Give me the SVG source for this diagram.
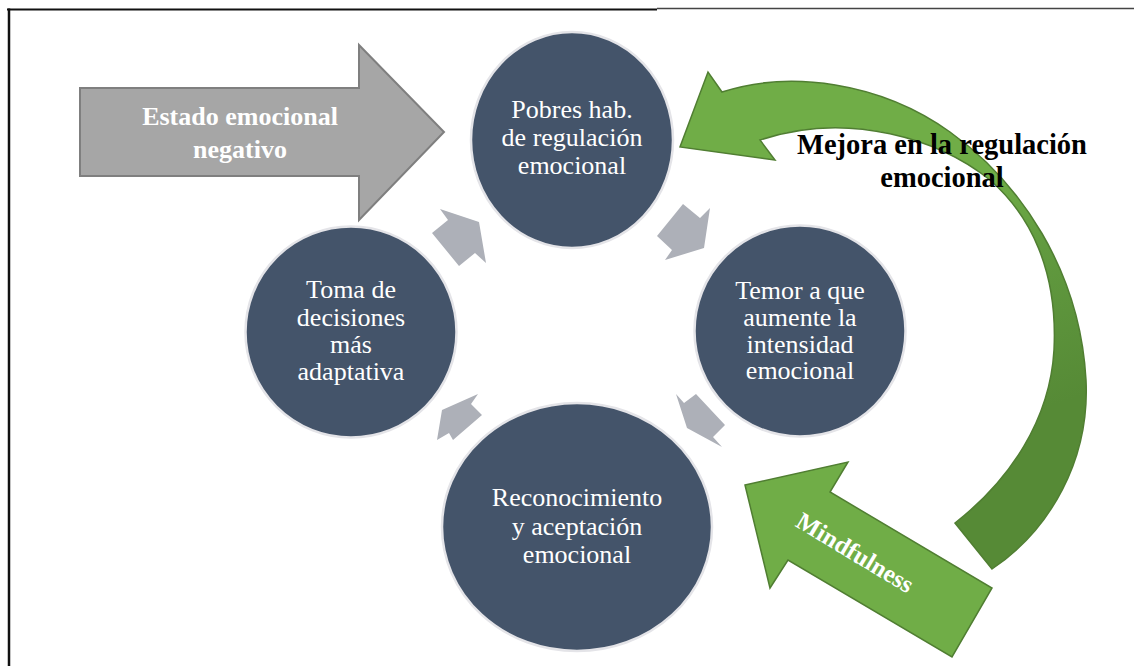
<svg xmlns="http://www.w3.org/2000/svg" width="1134" height="666" viewBox="0 0 1134 666">
<defs>
<style>
.node{fill:#44546A;stroke:#E4E4E8;stroke-width:2.5}
.ntext{font-family:"Liberation Serif","Times New Roman",serif;font-size:26px;fill:#FFFFFF;text-anchor:middle}
.btext{font-family:"Liberation Serif","Times New Roman",serif;font-weight:bold;text-anchor:middle}
.small{fill:#ADB0B8;stroke:none}
.green{fill:#70AD47;stroke:#507E32;stroke-width:1.5;stroke-linejoin:miter}
</style>
<linearGradient id="gcurve" gradientUnits="userSpaceOnUse" x1="995" y1="175" x2="1070" y2="400">
<stop offset="0" stop-color="#70AD47"/>
<stop offset="0.35" stop-color="#619A3F"/>
<stop offset="1" stop-color="#568A36"/>
</linearGradient>
</defs>
<rect x="0" y="0" width="1134" height="666" fill="#FFFFFF"/>
<g id="frame">
<line x1="7" y1="9.5" x2="657" y2="9.5" stroke="#111" stroke-width="2"/>
<line x1="657" y1="8.5" x2="1134" y2="8.5" stroke="#444" stroke-width="1.5"/>
<line x1="9" y1="8.5" x2="9" y2="666" stroke="#111" stroke-width="2.5"/>
</g>
<g id="connectors">
<polygon class="small" points="440,209 479,222 486,263 475,253 459,266 432,233 448,220"/>
<polygon class="small" points="683,204 700,218 710,208 704,248 665,260 672,250 657,236"/>
<polygon class="small" points="676,394 684,403 696,394 725,425 713,437 722,447 687,428"/>
<polygon class="small" points="478,394 442,410 437,440 449,433 453,440 482,415 471,404"/>
<g id="mejora">
<path fill="url(#gcurve)" stroke="#507E32" stroke-width="1.5" d="M722,92 C790,70 880,82 950,132 C1020,182 1080,270 1086,380 C1090,460 1050,530 992,569 L955,523 C1010,480 1050,420 1054,350 C1058,270 1030,215 990,180 C940,140 850,110 760,140 L775,160 L680,147 L708,72 Z"/>
<text class="btext" x="942" y="154" font-size="28.5" fill="#000000">Mejora en la regulación</text>
<text class="btext" x="942" y="187" font-size="28.5" fill="#000000">emocional</text>
</g>
</g>
<g id="estado">
<polygon points="80,88 359,88 359,45 444,132 359,220 359,176 80,176" fill="#A6A6A6" stroke="#7F7F7F" stroke-width="2"/>
<text class="btext" x="240" y="125" font-size="26" fill="#FFFFFF">Estado emocional</text>
<text class="btext" x="240" y="158" font-size="26" fill="#FFFFFF">negativo</text>
</g>
<g id="mindfulness">
<polygon class="green" points="745,485 848,462 830,492 992,588 952,657 788,560 770,588"/>
<text class="btext" transform="translate(855,553) rotate(31)" x="0" y="8" font-size="25" fill="#FFFFFF">Mindfulness</text>
</g>
<g id="pobres">
<ellipse class="node" cx="572" cy="140" rx="101" ry="108"/>
<text class="ntext" x="572" y="118">Pobres hab.</text>
<text class="ntext" x="572" y="146">de regulación</text>
<text class="ntext" x="572" y="174">emocional</text>
</g>
<g id="temor">
<circle class="node" cx="800" cy="331" r="105.5"/>
<text class="ntext" x="800" y="299">Temor a que</text>
<text class="ntext" x="800" y="326">aumente la</text>
<text class="ntext" x="800" y="352.5">intensidad</text>
<text class="ntext" x="800" y="379">emocional</text>
</g>
<g id="reconocimiento">
<ellipse class="node" cx="577" cy="527" rx="135" ry="124"/>
<text class="ntext" x="577" y="506" font-size="27">Reconocimiento</text>
<text class="ntext" x="577" y="535" font-size="27">y aceptación</text>
<text class="ntext" x="577" y="563" font-size="27">emocional</text>
</g>
<g id="toma">
<circle class="node" cx="351" cy="332" r="105.5"/>
<text class="ntext" x="351" y="298">Toma de</text>
<text class="ntext" x="351" y="325.5">decisiones</text>
<text class="ntext" x="351" y="353">más</text>
<text class="ntext" x="351" y="380">adaptativa</text>
</g>
</svg>
